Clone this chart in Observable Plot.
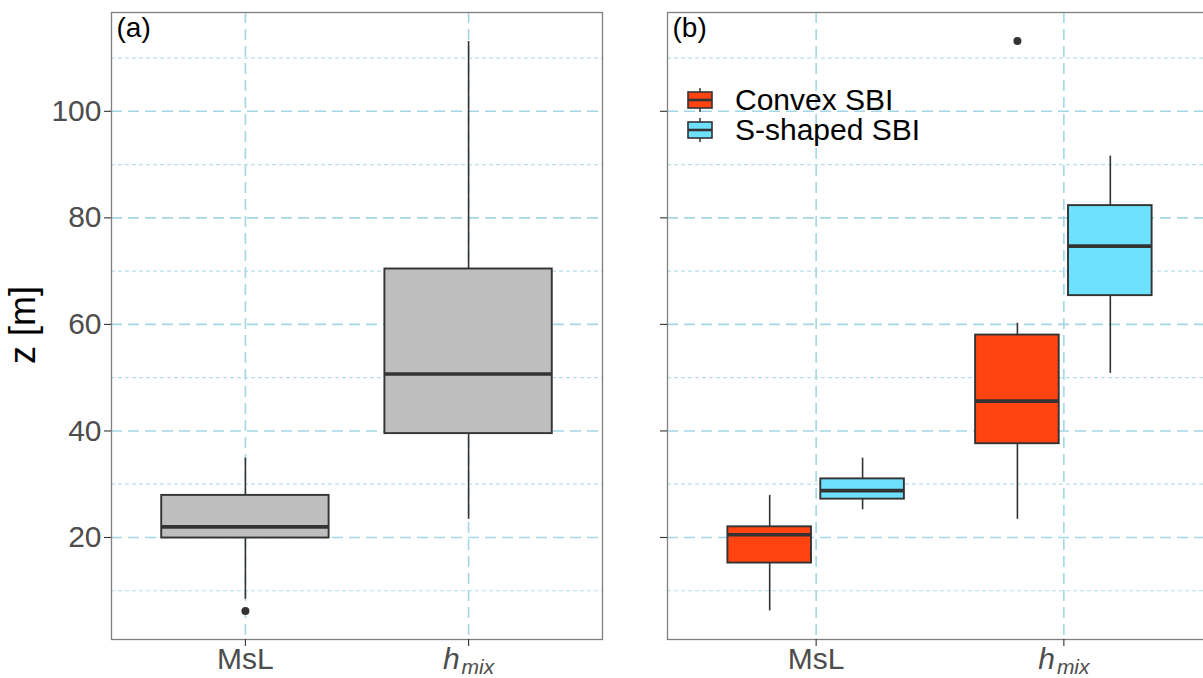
<!DOCTYPE html>
<html><head><meta charset="utf-8">
<script src="https://cdn.jsdelivr.net/npm/d3@7"></script>
<script src="https://cdn.jsdelivr.net/npm/@observablehq/plot@0.6"></script>
<style>
html,body{margin:0;padding:0;background:#fff;overflow:hidden;}
#wrap{position:relative;width:1203px;height:678px;overflow:hidden;font-family:"Liberation Sans",Arial,sans-serif;}
.panel{position:absolute;top:0;width:610px;height:678px;}
.panel svg{max-width:none !important;}
#ylab{position:absolute;left:23px;top:325px;transform:translate(-50%,-50%) rotate(-90deg);font-size:36px;white-space:nowrap;color:#000;line-height:1;}
#legend{position:absolute;left:686px;top:85px;font-size:30px;color:#000;}
.row{display:flex;align-items:center;height:30px;}
.row span{margin-left:21px;line-height:1;}
</style></head>
<body><div id="wrap">
<div id="pa" class="panel" style="left:0px"></div>
<div id="pb" class="panel" style="left:610px"></div>
<div id="ylab">z [m]</div>
<div id="legend"></div>
</div>
<script>
// ---- data ----
const categories = ["MsL", "hmix"];
const groups = ["Convex SBI", "S-shaped SBI"];
const groupColors = ["#FF4311", "#6EE1FF"];
const allColor = "#BEBEBE";
const yTicks = [20, 40, 60, 80, 100];
const yMinorTicks = [10, 30, 50, 70, 90, 110];

// panel (a): all cases
const allLow = [8.4, 23.4];
const allQ1 = [19.9, 39.5];
const allMedian = [22.0, 50.7];
const allQ3 = [27.9, 70.4];
const allHigh = [34.9, 113.1];
const allOutliers = [[6.2], []];

// panel (b): Convex SBI
const convexLow = [6.2, 23.4];
const convexQ1 = [15.2, 37.6];
const convexMedian = [20.5, 45.6];
const convexQ3 = [22.0, 58.0];
const convexHigh = [27.9, 60.2];
const convexOutliers = [[], [113.2]];

// panel (b): S-shaped SBI
const sLow = [25.2, 50.8];
const sQ1 = [27.2, 65.4];
const sMedian = [28.8, 74.7];
const sQ3 = [31.0, 82.3];
const sHigh = [34.9, 91.6];
const sOutliers = [[], []];

// ---- layout helpers (ggplot-like dodge) ----
const boxWidth = 0.75;
function buildRows(series) {
  const rows = [], outs = [];
  const n = series.length;
  series.forEach((s, g) => {
    categories.forEach((c, i) => {
      const w = boxWidth / n;
      const xc = (i + 1) - boxWidth / 2 + w * (g + 0.5);
      const hw = (n > 1 ? w * 0.9 : w) / 2;
      rows.push({xc, x1: xc - hw, x2: xc + hw, low: s.low[i], q1: s.q1[i], median: s.median[i], q3: s.q3[i], high: s.high[i], color: s.color});
      s.outliers[i].forEach(v => outs.push({xc, value: v}));
    });
  });
  return {rows, outs};
}

const seriesA = [{low: allLow, q1: allQ1, median: allMedian, q3: allQ3, high: allHigh, outliers: allOutliers, color: allColor}];
const seriesB = [
  {low: convexLow, q1: convexQ1, median: convexMedian, q3: convexQ3, high: convexHigh, outliers: convexOutliers, color: groupColors[0]},
  {low: sLow, q1: sQ1, median: sMedian, q3: sQ3, high: sHigh, outliers: sOutliers, color: groupColors[1]}
];

const allVals = [].concat(allLow, allHigh, allOutliers.flat(), convexLow, convexHigh, convexOutliers.flat(), sLow, sHigh, sOutliers.flat());
const vmin = d3.min(allVals), vmax = d3.max(allVals);
const pad = (vmax - vmin) * 0.05;
const yDomain = [vmin - pad, vmax + pad];

function panel(series, width, marginLeft, showYLabels, tag) {
  const {rows, outs} = buildRows(series);
  const svg = Plot.plot({
    width, height: 678, marginTop: 12, marginBottom: 39, marginLeft, marginRight: 8,
    style: {fontFamily: "Liberation Sans, Arial, sans-serif", background: "transparent", overflow: "visible", maxWidth: "none"},
    x: {type: "linear", domain: [0.4, 2.6], axis: null},
    y: {domain: yDomain, axis: null},
    color: {type: "identity"},
    marks: [
      Plot.ruleY(yMinorTicks, {stroke: "#b8e0ec", strokeWidth: 1.2, strokeDasharray: "4,3"}),
      Plot.ruleY(yTicks, {stroke: "#a4d6e5", strokeWidth: 1.6, strokeDasharray: "11,6"}),
      Plot.ruleX([1, 2], {stroke: "#a4d6e5", strokeWidth: 1.6, strokeDasharray: "11,6"}),
      Plot.ruleX(rows, {x: "xc", y1: "q3", y2: "high", stroke: "#333333", strokeWidth: 1.6}),
      Plot.ruleX(rows, {x: "xc", y1: "low", y2: "q1", stroke: "#333333", strokeWidth: 1.6}),
      Plot.rect(rows, {x1: "x1", x2: "x2", y1: "q1", y2: "q3", fill: "color", stroke: "#333333", strokeWidth: 1.9}),
      Plot.ruleY(rows, {y: "median", x1: "x1", x2: "x2", stroke: "#333333", strokeWidth: 3.6}),
      Plot.dot(outs, {x: "xc", y: "value", r: 4, fill: "#333333", stroke: null}),
      Plot.frame({stroke: "#7f7f7f", strokeWidth: 1.3}),
      Plot.text([tag], {frameAnchor: "top-left", dx: 5, dy: 5, fontSize: 28, textAnchor: "start", lineAnchor: "top", fill: "#000"}),
      Plot.axisY(yTicks, {anchor: "left", tickSize: 7, tickPadding: 3, fontSize: 30, stroke: "#333333", fill: "#4d4d4d", strokeWidth: 1.1,
        tickFormat: showYLabels ? (d => String(d)) : (() => ""), label: null}),
      Plot.axisX([1, 2], {anchor: "bottom", tickSize: 7, tickPadding: 1, fontSize: 30, stroke: "#333333", fill: "#4d4d4d", strokeWidth: 1.1,
        tickFormat: d => categories[d - 1], label: null})
    ]
  });
  // italic h with subscript "mix"
  svg.querySelectorAll("text").forEach(t => {
    if (t.textContent === "hmix") {
      t.textContent = "";
      const ns = "http://www.w3.org/2000/svg";
      const a = document.createElementNS(ns, "tspan");
      a.setAttribute("font-style", "italic");
      a.textContent = "h";
      const b = document.createElementNS(ns, "tspan");
      b.setAttribute("font-style", "italic");
      b.setAttribute("font-size", "21");
      b.setAttribute("dy", "5");
      b.setAttribute("dx", "2");
      b.textContent = "mix";
      t.appendChild(a); t.appendChild(b);
    }
  });
  return svg;
}

document.getElementById("pa").appendChild(panel(seriesA, 610, 111, true, "(a)"));
document.getElementById("pb").appendChild(panel(seriesB, 610, 57, false, "(b)"));

// legend
const leg = document.getElementById("legend");
groups.forEach((g, i) => {
  const row = document.createElement("div");
  row.className = "row";
  row.innerHTML = `<svg width="28" height="28"><line x1="14" x2="14" y1="2" y2="26" stroke="#333" stroke-width="1.5"/><rect x="2" y="6" width="24" height="16" fill="${groupColors[i]}" stroke="#333" stroke-width="1.6"/><line x1="2" x2="26" y1="14" y2="14" stroke="#333" stroke-width="2.6"/></svg><span>${g}</span>`;
  leg.appendChild(row);
});
</script>
</body></html>
